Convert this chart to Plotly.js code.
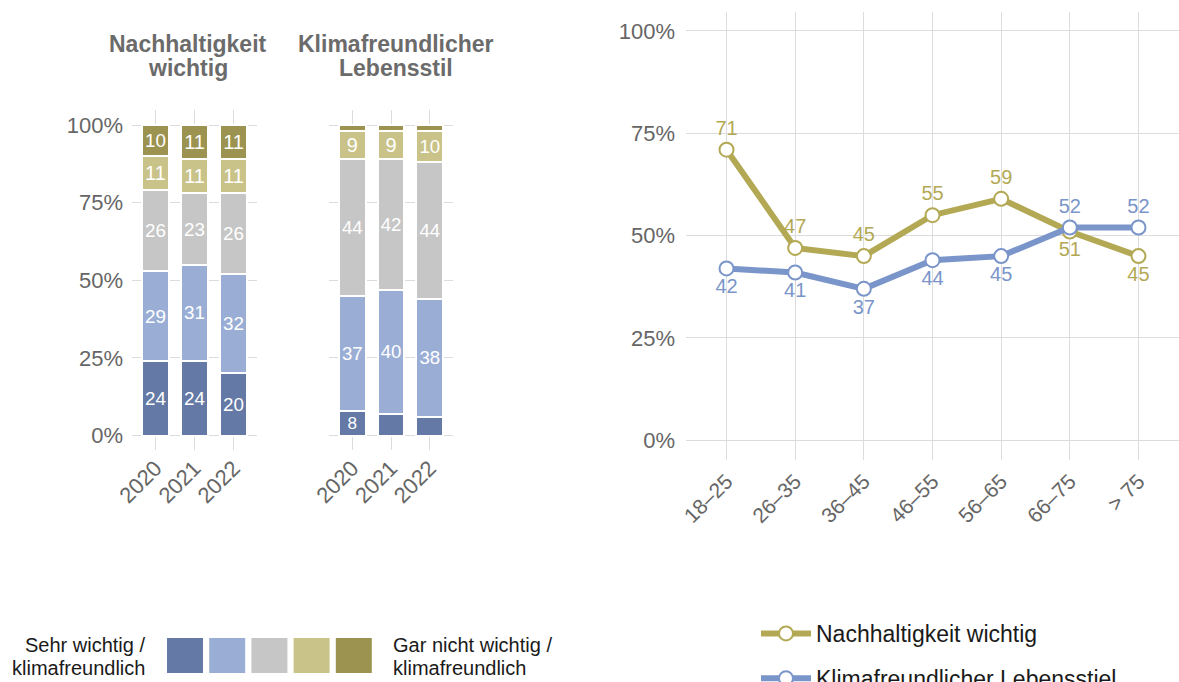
<!DOCTYPE html>
<html><head><meta charset="utf-8">
<script src="https://cdn.plot.ly/plotly-3.0.1.min.js"></script>
<style>html,body{margin:0;padding:0;background:#fff;overflow:hidden}#chart{width:1179px;height:682px}</style>
</head><body><div id="chart"></div>
<script>
// ---- data ----
const years = ['2020', '2021', '2022'];
const levelNames = ['Sehr wichtig / klimafreundlich', 'Eher wichtig', 'Teils / teils', 'Eher nicht wichtig', 'Gar nicht wichtig / klimafreundlich'];
const nachhaltigkeitLevels = [[24, 24, 20], [29, 31, 32], [26, 23, 26], [11, 11, 11], [10, 11, 11]];
const klimaLevels = [[8, 7, 6], [37, 40, 38], [44, 42, 44], [9, 9, 10], [2, 2, 2]];
const ageGroups = ['18–25', '26–35', '36–45', '46–55', '56–65', '66–75', '> 75'];
const nachhaltigkeitByAge = [71, 47, 45, 55, 59, 51, 45];
const klimaByAge = [42, 41, 37, 44, 45, 52, 52];
const pctTicks = [0, 25, 50, 75, 100];
const pctLabels = ['0%', '25%', '50%', '75%', '100%'];
const panelTitles = [['Nachhaltigkeit', 'wichtig'], ['Klimafreundlicher', 'Lebensstil']];
const scaleLeft = ['Sehr wichtig /', 'klimafreundlich'];
const scaleRight = ['Gar nicht wichtig /', 'klimafreundlich'];

// ---- styles ----
const levelColors = ['#6479a5', '#9aaed5', '#c6c6c6', '#c9c389', '#9b934f'];
const olive = '#b3a955', blue = '#7a95c9';
const FONT = 'Liberation Sans, Arial, Helvetica, sans-serif';
const W = 1179, H = 682;
const px = x => x / W, py = y => 1 - y / H;
const grid = '#dcdcdc';

const traces = [];
function addBars(levels, xa, ya) {
  levels.forEach((vals, i) => {
    traces.push({
      type: 'bar', x: years, y: vals, xaxis: xa, yaxis: ya,
      name: levelNames[i], showlegend: false,
      marker: {color: levelColors[i], line: {color: '#ffffff', width: 2}},
      text: vals.map(v => v >= 8 ? String(v) : ''),
      textposition: 'inside', insidetextanchor: 'middle', textangle: 0,
      textfont: {family: FONT, size: 20, color: '#ffffff'},
      hoverinfo: 'skip'
    });
  });
}
addBars(nachhaltigkeitLevels, 'x', 'y');
addBars(klimaLevels, 'x2', 'y2');

function pos(a, b) { return a.map((v, i) => v >= b[i] ? 'top center' : 'bottom center'); }
traces.push({
  type: 'scatter', mode: 'lines+markers+text', x: ageGroups, y: nachhaltigkeitByAge,
  xaxis: 'x3', yaxis: 'y3', name: 'Nachhaltigkeit wichtig', legendgroup: 'a',
  line: {color: olive, width: 6},
  marker: {size: 14, color: '#ffffff', line: {color: olive, width: 2}},
  text: nachhaltigkeitByAge.map(String), textposition: pos(nachhaltigkeitByAge, klimaByAge),
  textfont: {family: FONT, size: 20, color: olive}, cliponaxis: false
});
traces.push({
  type: 'scatter', mode: 'lines+markers+text', x: ageGroups, y: klimaByAge,
  xaxis: 'x3', yaxis: 'y3', name: 'Klimafreundlicher Lebensstiel', legendgroup: 'b',
  line: {color: blue, width: 6},
  marker: {size: 14, color: '#ffffff', line: {color: blue, width: 2}},
  text: klimaByAge.map(String), textposition: pos(klimaByAge, nachhaltigkeitByAge),
  textfont: {family: FONT, size: 20, color: blue}, cliponaxis: false
});

const baseX = {type: 'category', showgrid: true, gridcolor: grid, gridwidth: 1, zeroline: false,
  showline: false, ticks: '', tickangle: -45, tickfont: {family: FONT, size: 22, color: '#666666'}, fixedrange: true, automargin: false};
const baseY = {showgrid: true, gridcolor: grid, gridwidth: 1, zeroline: false, showline: false, ticks: '',
  tickvals: pctTicks, ticktext: pctLabels, tickfont: {family: FONT, size: 22, color: '#666666'}, fixedrange: true, automargin: false};

const shapes = [], annotations = [];
levelColors.forEach((c, i) => {
  const x0 = 167 + i * 42.2;
  shapes.push({type: 'rect', xref: 'paper', yref: 'paper', x0: px(x0), x1: px(x0 + 36), y0: py(673), y1: py(638),
    fillcolor: c, line: {width: 0}});
});
function textLines(lines, x, y0, gap, anchor, font) {
  lines.forEach((t, i) => annotations.push({xref: 'paper', yref: 'paper', x: px(x), y: py(y0 + i * gap),
    xanchor: anchor, yanchor: 'middle', text: t, showarrow: false, font: font}));
}
const legFont = {family: FONT, size: 20, color: '#1a1a1a'};
const titleFont = {family: FONT, size: 23, color: '#6b6b6b', weight: 'bold'};
textLines(scaleLeft, 147, 645, 22.5, 'right', legFont);
textLines(scaleRight, 391, 645, 22.5, 'left', legFont);
textLines(panelTitles[0].map(t => '<b>' + t + '</b>'), 188, 44, 24, 'center', titleFont);
textLines(panelTitles[1].map(t => '<b>' + t + '</b>'), 396, 44, 24, 'center', titleFont);

const layout = {
  width: W, height: H, margin: {l: 0, r: 0, t: 0, b: 0, autoexpand: false}, paper_bgcolor: '#ffffff', plot_bgcolor: '#ffffff',
  barmode: 'stack', bargap: 0.31, font: {family: FONT},
  xaxis: Object.assign({}, baseX, {domain: [px(132), px(257)], range: [-0.6, 2.6], anchor: 'y'}),
  yaxis: Object.assign({}, baseY, {domain: [py(450), py(110)], range: [-4.67, 104.83], anchor: 'x', ticklabelstandoff: 8}),
  xaxis2: Object.assign({}, baseX, {domain: [px(329), px(453)], range: [-0.6, 2.6], anchor: 'y2'}),
  yaxis2: Object.assign({}, baseY, {domain: [py(450), py(110)], range: [-4.67, 104.83], anchor: 'x2', showticklabels: false}),
  xaxis3: Object.assign({}, baseX, {domain: [px(686), 1], range: [-0.59, 6.59], anchor: 'y3', ticklabelstandoff: 4, tickfont: {family: FONT, size: 21, color: '#666666'}}),
  yaxis3: Object.assign({}, baseY, {domain: [py(460), py(12)], range: [-4.81, 104.64], anchor: 'x3', ticklabelstandoff: 10}),
  showlegend: true,
  legend: {x: px(756), y: py(612), xanchor: 'left', yanchor: 'top', orientation: 'v', traceorder: 'grouped', tracegroupgap: 12,
    font: {family: FONT, size: 23, color: '#1a1a1a'}, bgcolor: 'rgba(0,0,0,0)', itemwidth: 50},
  shapes: shapes, annotations: annotations
};
Plotly.newPlot('chart', traces, layout, {displayModeBar: false, staticPlot: true});
</script>
</body></html>
